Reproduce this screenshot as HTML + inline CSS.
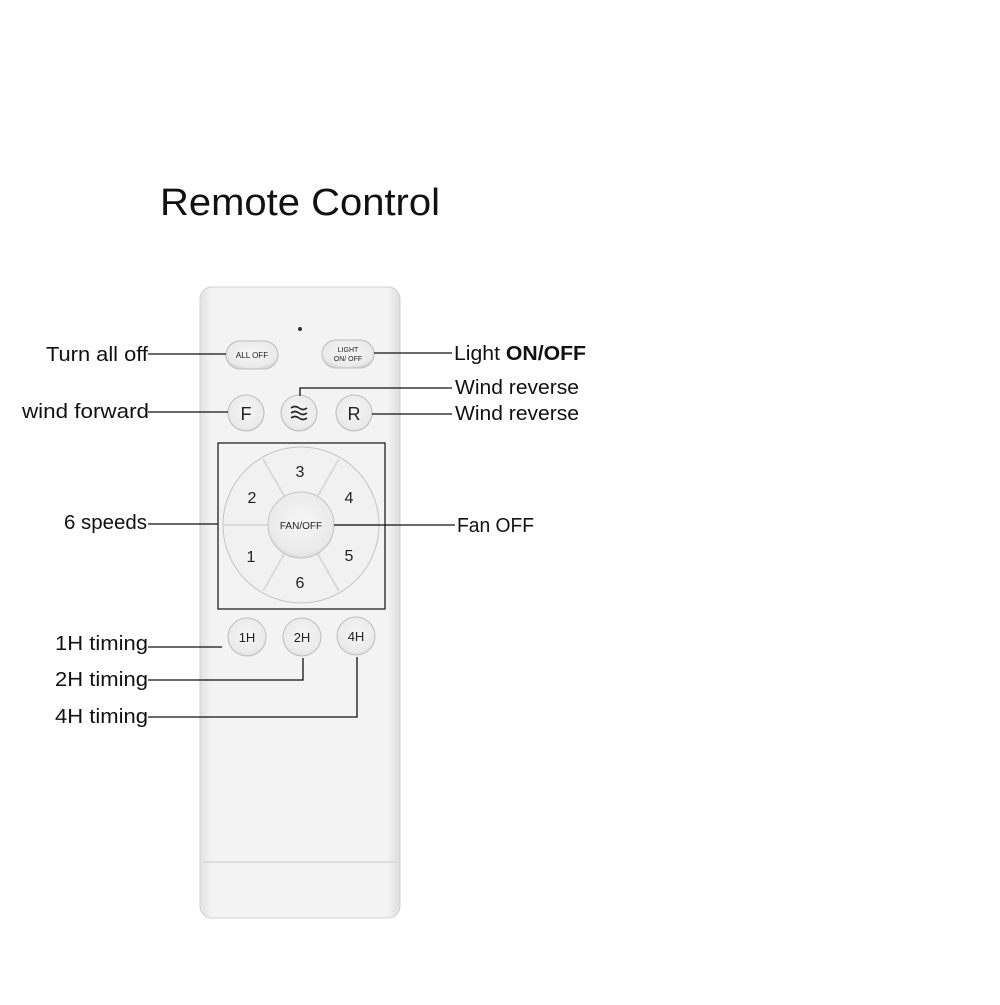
<!DOCTYPE html>
<html><head><meta charset="utf-8"><style>html,body{margin:0;padding:0;background:#fff}</style></head>
<body>
<svg width="1000" height="1000" viewBox="0 0 1000 1000" xmlns="http://www.w3.org/2000/svg" font-family="Liberation Sans, DejaVu Sans, sans-serif">
<defs>
<radialGradient id="btn" cx="0.5" cy="0.45" r="0.6"><stop offset="0" stop-color="#f6f6f6"/><stop offset="0.8" stop-color="#eaeaea"/><stop offset="1" stop-color="#cfcfcf"/></radialGradient>
<linearGradient id="body" x1="0" x2="1"><stop offset="0" stop-color="#e2e2e2"/><stop offset="0.06" stop-color="#f3f3f3"/><stop offset="0.94" stop-color="#f3f3f3"/><stop offset="1" stop-color="#dcdcdc"/></linearGradient>
</defs>
<rect width="1000" height="1000" fill="#fff"/>
<text x="160" y="215" font-size="38" textLength="280" lengthAdjust="spacingAndGlyphs" fill="#111">Remote Control</text>
<!-- body -->
<rect x="200" y="287" width="200" height="631" rx="12" fill="url(#body)" stroke="#d0d0d0"/>
<line x1="203" y1="862" x2="397" y2="862" stroke="#d6d6d6" stroke-width="1.5"/>
<circle cx="300" cy="329" r="2" fill="#333"/>
<!-- top pills -->
<rect x="226" y="341" width="52" height="28" rx="14" fill="url(#btn)" stroke="#bdbdbd"/>
<text x="252" y="358" font-size="8" text-anchor="middle" fill="#222">ALL OFF</text>
<rect x="322" y="340" width="52" height="28" rx="14" fill="url(#btn)" stroke="#bdbdbd"/>
<text x="348" y="352" font-size="7" text-anchor="middle" fill="#222">LIGHT</text>
<text x="348" y="361" font-size="7" text-anchor="middle" fill="#222">ON/ OFF</text>
<!-- F ~ R -->
<circle cx="246" cy="413" r="18" fill="url(#btn)" stroke="#bdbdbd"/>
<text x="246" y="420" font-size="18" text-anchor="middle" fill="#222">F</text>
<circle cx="299" cy="413" r="18" fill="url(#btn)" stroke="#bdbdbd"/>
<path d="M291 408q4-3 8 0t8 0M291 413q4-3 8 0t8 0M291 418q4-3 8 0t8 0" fill="none" stroke="#222" stroke-width="1.6"/>
<circle cx="354" cy="413" r="18" fill="url(#btn)" stroke="#bdbdbd"/>
<text x="354" y="420" font-size="18" text-anchor="middle" fill="#222">R</text>
<!-- d-pad -->
<rect x="218" y="443" width="167" height="166" fill="none" stroke="#222" stroke-width="1.3"/>
<circle cx="301" cy="525" r="78" fill="#f1f1f1" stroke="#c4c4c4"/>
<g stroke="#dadada" stroke-width="2">
<line x1="301" y1="525" x2="263" y2="459"/><line x1="301" y1="525" x2="339" y2="459"/>
<line x1="301" y1="525" x2="223" y2="525"/><line x1="301" y1="525" x2="379" y2="525"/>
<line x1="301" y1="525" x2="263" y2="591"/><line x1="301" y1="525" x2="339" y2="591"/>
</g>
<circle cx="301" cy="525" r="33" fill="url(#btn)" stroke="#c4c4c4"/>
<text x="301" y="529" font-size="10" text-anchor="middle" fill="#222">FAN/OFF</text>
<g font-size="16" text-anchor="middle" fill="#222">
<text x="300" y="477">3</text><text x="252" y="503">2</text><text x="349" y="503">4</text>
<text x="251" y="562">1</text><text x="349" y="561">5</text><text x="300" y="588">6</text>
</g>
<!-- timers -->
<circle cx="247" cy="637" r="19" fill="url(#btn)" stroke="#bdbdbd"/>
<text x="247" y="642" font-size="13" text-anchor="middle" fill="#222">1H</text>
<circle cx="302" cy="637" r="19" fill="url(#btn)" stroke="#bdbdbd"/>
<text x="302" y="642" font-size="13" text-anchor="middle" fill="#222">2H</text>
<circle cx="356" cy="636" r="19" fill="url(#btn)" stroke="#bdbdbd"/>
<text x="356" y="641" font-size="13" text-anchor="middle" fill="#222">4H</text>
<!-- leader lines -->
<g stroke="#111" stroke-width="1.3" fill="none">
<line x1="148" y1="354" x2="226" y2="354"/>
<line x1="374" y1="353" x2="452" y2="353"/>
<polyline points="300,396 300,388 452,388"/>
<line x1="372" y1="414" x2="452" y2="414"/>
<line x1="148" y1="412" x2="228" y2="412"/>
<line x1="148" y1="524" x2="218" y2="524"/>
<line x1="334" y1="525" x2="455" y2="525"/>
<line x1="148" y1="647" x2="222" y2="647"/>
<polyline points="148,680 303,680 303,658"/>
<polyline points="148,717 357,717 357,657"/>
</g>
<!-- labels -->
<g font-size="20" fill="#111">
<text x="46" y="361" textLength="102" lengthAdjust="spacingAndGlyphs">Turn all off</text>
<text x="454" y="360" textLength="132" lengthAdjust="spacingAndGlyphs">Light <tspan font-weight="bold">ON/OFF</tspan></text>
<text x="455" y="394" textLength="124" lengthAdjust="spacingAndGlyphs">Wind reverse</text>
<text x="455" y="420" textLength="124" lengthAdjust="spacingAndGlyphs">Wind reverse</text>
<text x="22" y="418" textLength="127" lengthAdjust="spacingAndGlyphs">wind forward</text>
<text x="64" y="529" textLength="83" lengthAdjust="spacingAndGlyphs">6 speeds</text>
<text x="457" y="532" textLength="77" lengthAdjust="spacingAndGlyphs">Fan OFF</text>
<text x="55" y="650" textLength="93" lengthAdjust="spacingAndGlyphs">1H timing</text>
<text x="55" y="686" textLength="93" lengthAdjust="spacingAndGlyphs">2H timing</text>
<text x="55" y="723" textLength="93" lengthAdjust="spacingAndGlyphs">4H timing</text>
</g>
</svg>
</body></html>
